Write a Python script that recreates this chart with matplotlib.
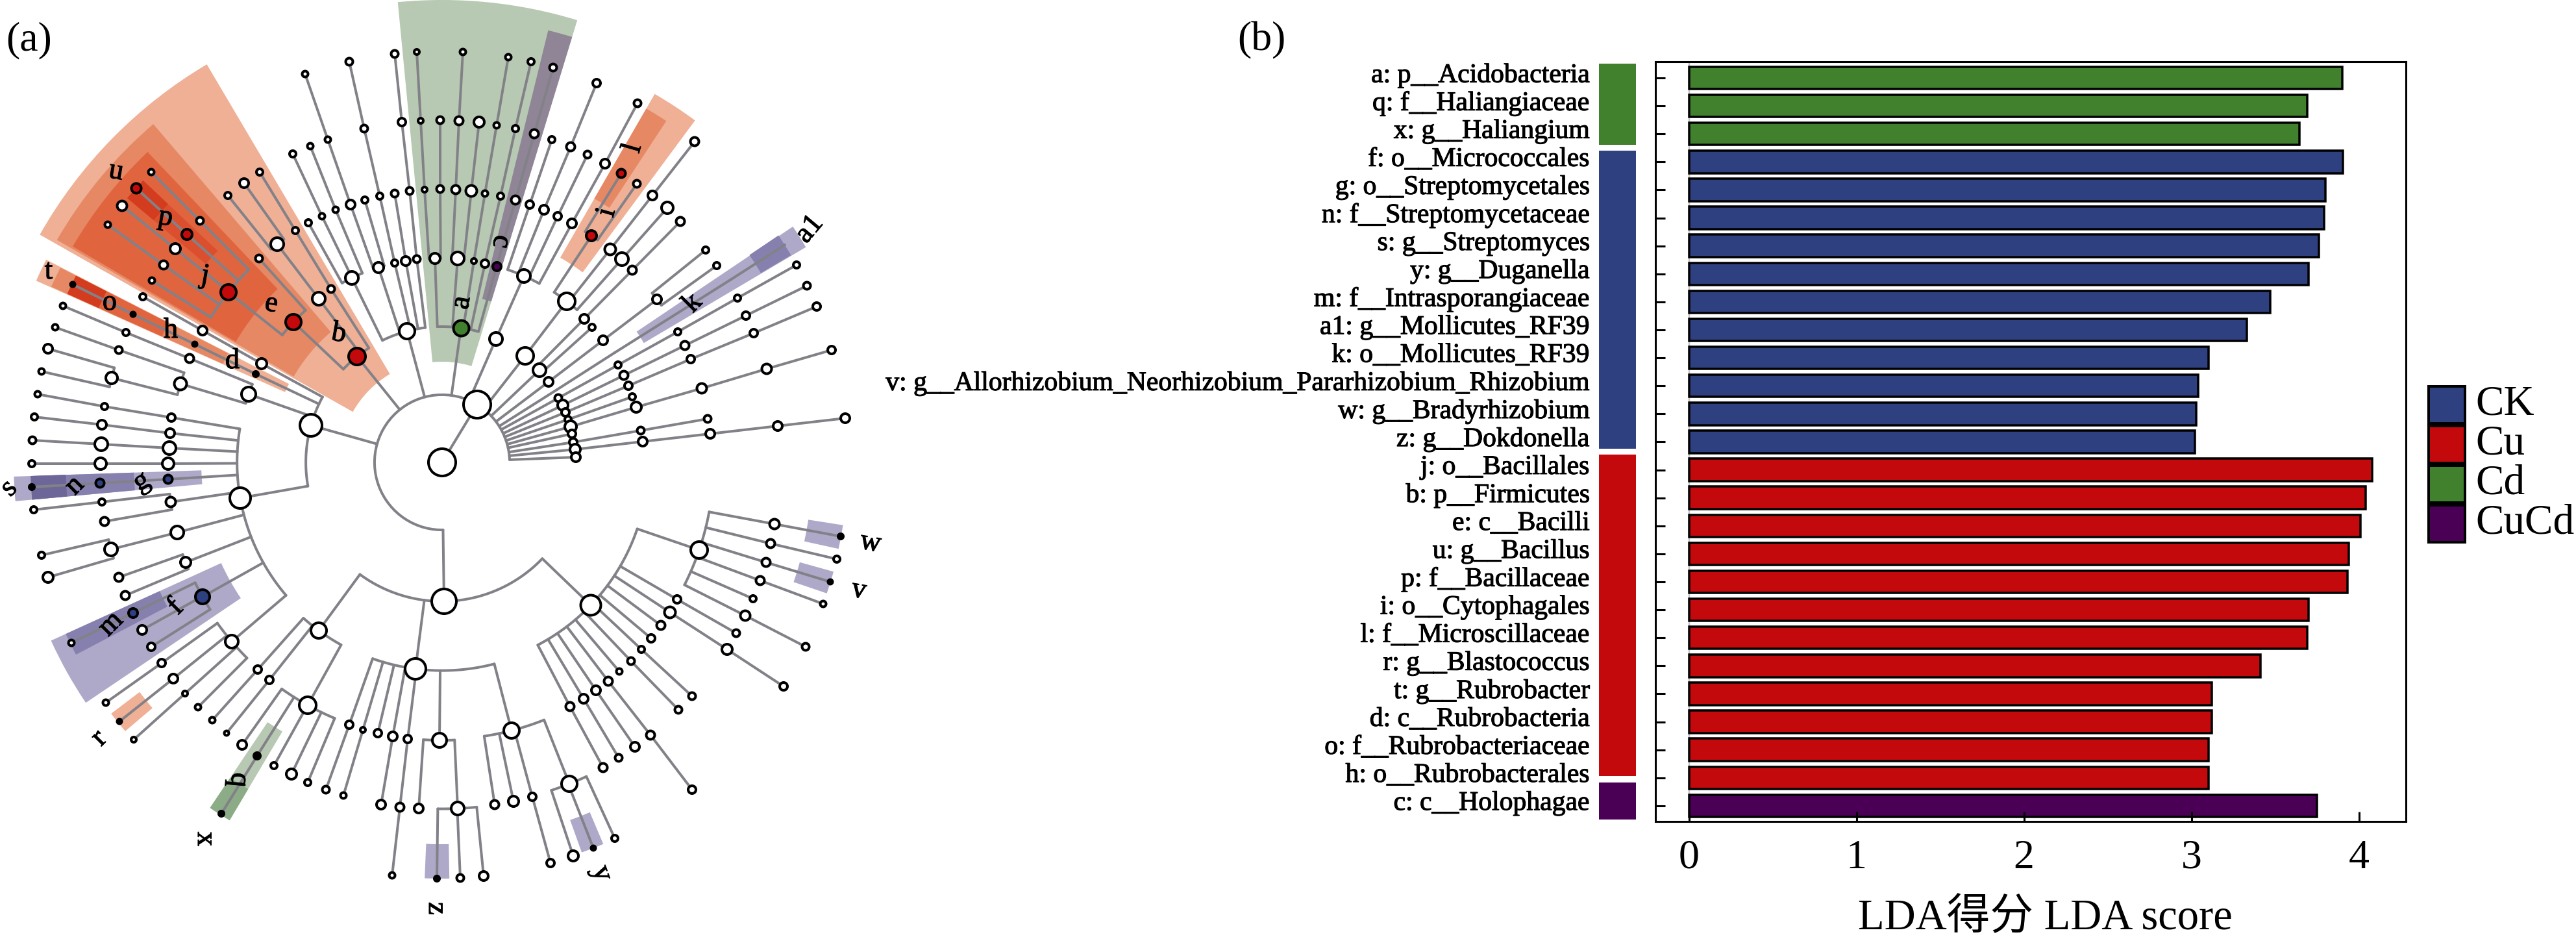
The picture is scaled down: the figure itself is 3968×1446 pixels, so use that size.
import math
import numpy as np
import matplotlib
matplotlib.use('Agg')
import matplotlib.pyplot as plt
import matplotlib.patheffects as pe
from matplotlib.patches import Rectangle, Wedge

plt.rcParams['font.family'] = ['Liberation Serif', 'Noto Sans CJK SC']

#Bar chart (b)
categories = ['a: p__Acidobacteria', 'q: f__Haliangiaceae', 'x: g__Haliangium',
              'f: o__Micrococcales', 'g: o__Streptomycetales', 'n: f__Streptomycetaceae',
              's: g__Streptomyces', 'y: g__Duganella', 'm: f__Intrasporangiaceae',
              'a1: g__Mollicutes_RF39', 'k: o__Mollicutes_RF39',
              'v: g__Allorhizobium_Neorhizobium_Pararhizobium_Rhizobium',
              'w: g__Bradyrhizobium', 'z: g__Dokdonella',
              'j: o__Bacillales', 'b: p__Firmicutes', 'e: c__Bacilli', 'u: g__Bacillus',
              'p: f__Bacillaceae', 'i: o__Cytophagales', 'l: f__Microscillaceae',
              'r: g__Blastococcus', 't: g__Rubrobacter', 'd: c__Rubrobacteria',
              'o: f__Rubrobacteriaceae', 'h: o__Rubrobacterales', 'c: c__Holophagae']
lda_scores = [3.90, 3.69, 3.645, 3.905, 3.80, 3.79, 3.76, 3.70, 3.47, 3.33, 3.10,
              3.04, 3.03, 3.02, 4.08, 4.04, 4.01, 3.94, 3.93, 3.70, 3.69, 3.41,
              3.12, 3.12, 3.10, 3.10, 3.75]
bar_groups = ['Cd'] * 3 + ['CK'] * 11 + ['Cu'] * 12 + ['CuCd']
legend_groups = ['CK', 'Cu', 'Cd', 'CuCd']
group_colors = {'CK': '#2F4080', 'Cu': '#C4090D', 'Cd': '#41812D', 'CuCd': '#4A0055'}
#Colour strip beside the labels: group, first and last bar position
strip_groups = ['Cd', 'CK', 'Cu', 'CuCd']
strip_start = [-0.50, 2.60, 13.46, 25.17]
strip_end = [2.39, 13.24, 24.94, 26.50]
x_ticks = [0, 1, 2, 3, 4]

#Cladogram (a): id, parent, x, y, diameter, fill. Read in pixels of the picture
tree_centre = [
    ('R', None, 681, 712, 46, 'w'), ('B', 'R', 735, 623, 46, 'w'),
]
tree_bottom = [
    ('P1', 'B', 684, 926, 42, 'w'), ('C1', 'P1', 491, 971, 28, 'w'),
    ('C2', 'P1', 640, 1030, 36, 'w'), ('C3', 'P1', 910, 932, 35, 'w'),
    ('D1', 'C1', 397, 1031, 14, 'w'), ('D1a', 'D1', 327, 1109, 11, 'w'),
    ('D2', 'C1', 415, 1047, 14, 'w'), ('D2a', 'D2', 349, 1129, 9, 'w'),
    ('D3', 'C1', 474, 1086, 30, 'w'), ('D3a', 'D3', 373, 1147, 18, 'w'),
    ('q', 'D3', 396, 1164, 12, 'k'), ('x', 'q', 341, 1253, 10, 'k'),
    ('D3c', 'D3', 422, 1179, 12, 'w'), ('D3d', 'D3', 449, 1192, 20, 'w'),
    ('D3e', 'D3', 474, 1205, 12, 'w'),
    ('D4', 'C2', 538, 1116, 14, 'w'), ('D4a', 'D4', 502, 1216, 13, 'w'),
    ('D5', 'C2', 559, 1124, 10, 'w'), ('D5a', 'D5', 529, 1225, 11, 'w'),
    ('D6', 'C2', 582, 1129, 14, 'w'),
    ('D7', 'C2', 605, 1134, 16, 'w'), ('D7a', 'D7', 587, 1239, 16, 'w'),
    ('D8', 'C2', 628, 1138, 14, 'w'), ('D8a', 'D8', 616, 1243, 15, 'w'),
    ('D8b', 'D8a', 604, 1348, 11, 'w'),
    ('D9', 'C2', 677, 1140, 26, 'w'), ('D9a', 'D9', 645, 1245, 18, 'w'),
    ('E9', 'D9', 705, 1245, 24, 'w'), ('z', 'E9', 673, 1353, 10, 'k'),
    ('E9b', 'E9', 709, 1352, 13, 'w'), ('E9c', 'E9', 745, 1349, 16, 'w'),
    ('D10', 'C2', 788, 1125, 28, 'w'), ('D10a', 'D10', 762, 1239, 15, 'w'),
    ('D10b', 'D10', 791, 1234, 20, 'w'), ('E10', 'D10', 820, 1227, 14, 'w'),
    ('E10a', 'E10', 848, 1329, 14, 'w'), ('E11', 'D10', 877, 1207, 28, 'w'),
    ('E11a', 'E11', 883, 1318, 20, 'w'), ('y', 'E11', 914, 1306, 9, 'k'),
    ('E11c', 'E11', 947, 1291, 12, 'w'),
    ('F1', 'C3', 878, 1088, 17, 'w'), ('F1a', 'F1', 929, 1182, 17, 'w'),
    ('F2', 'C3', 899, 1076, 16, 'w'), ('F2a', 'F2', 953, 1167, 13, 'w'),
    ('F3', 'C3', 918, 1063, 18, 'w'), ('F3a', 'F3', 978, 1150, 16, 'w'),
    ('F4', 'C3', 937, 1049, 15, 'w'), ('F4a', 'F4', 1002, 1132, 15, 'w'),
    ('F4b', 'F4a', 1066, 1216, 14, 'w'), ('F5', 'C3', 954, 1034, 11, 'w'),
    ('F6', 'C3', 972, 1018, 13, 'w'), ('F6a', 'F6', 1045, 1093, 13, 'w'),
    ('F7', 'C3', 988, 1000, 12, 'w'), ('F7a', 'F7', 1066, 1072, 13, 'w'),
    ('F8', 'C3', 1003, 983, 14, 'w'), ('F9', 'C3', 1018, 963, 15, 'w'),
    ('F10', 'C3', 1032, 943, 21, 'w'), ('F10a', 'F10', 1120, 1000, 20, 'w'),
    ('F10b', 'F10a', 1207, 1057, 14, 'w'),
    ('F11', 'C3', 1043, 923, 14, 'w'), ('F11a', 'F11', 1134, 975, 13, 'w'),
    ('F12', 'C3', 1077, 847, 30, 'w'),
    ('W1', 'F12', 1193, 807, 19, 'w'), ('w', 'W1', 1295, 826, 10, 'k'),
    ('W2', 'F12', 1187, 837, 17, 'w'), ('W2a', 'W2', 1289, 861, 12, 'w'),
    ('W3', 'F12', 1180, 866, 17, 'w'), ('v', 'W3', 1279, 896, 9, 'k'),
    ('W4', 'F12', 1171, 894, 15, 'w'), ('W4a', 'W4', 1268, 930, 11, 'w'),
    ('W5', 'F12', 1160, 922, 12, 'w'),
    ('W6', 'F12', 1148, 948, 19, 'w'), ('W6a', 'W6', 1241, 996, 13, 'w'),
]
tree_left = [
    ('P2', 'B', 479, 655, 38, 'w'),
    ('G1', 'P2', 403, 560, 20, 'w'), ('G1a', 'G1', 312, 509, 18, 'w'),
    ('G1b', 'G1a', 220, 457, 12, 'w'),
    ('d', 'P2', 394, 576, 10, 'k'), ('h', 'd', 300, 530, 9, 'k'),
    ('o', 'h', 205, 484, 9, 'k'), ('t', 'o', 112, 438, 9, 'k'),
    ('G3', 'P2', 383, 607, 26, 'w'), ('H1', 'G3', 292, 552, 15, 'w'),
    ('H1a', 'H1', 194, 512, 12, 'w'), ('H1b', 'H1a', 97, 471, 11, 'w'),
    ('H2', 'G3', 278, 591, 23, 'w'), ('I1', 'H2', 183, 539, 13, 'w'),
    ('I1a', 'I1', 85, 504, 11, 'w'), ('I2', 'H2', 172, 582, 22, 'w'),
    ('I2a', 'I2', 74, 537, 16, 'w'), ('I2b', 'I2', 64, 572, 11, 'w'),
    ('G4', 'P2', 370, 767, 36, 'w'),
    ('J1', 'G4', 264, 643, 14, 'w'), ('J1a', 'J1', 161, 626, 12, 'w'),
    ('J1b', 'J1a', 58, 607, 11, 'w'),
    ('J2', 'G4', 262, 667, 16, 'w'), ('J2a', 'J2', 157, 654, 16, 'w'),
    ('J2b', 'J2a', 53, 642, 12, 'w'),
    ('J3', 'G4', 261, 690, 24, 'w'), ('J3a', 'J3', 156, 684, 24, 'w'),
    ('J3b', 'J3a', 50, 678, 13, 'w'),
    ('J4', 'G4', 259, 714, 22, 'w'), ('J4a', 'J4', 155, 714, 22, 'w'),
    ('J4b', 'J4a', 49, 714, 12, 'w'),
    ('g', 'G4', 259, 738, 15, 'n'), ('n', 'g', 154, 744, 15, 'n'),
    ('s', 'n', 49, 750, 10, 'k'),
    ('J6', 'G4', 263, 773, 19, 'w'), ('K1', 'J6', 157, 773, 12, 'w'),
    ('K1a', 'K1', 52, 785, 12, 'w'), ('K1b', 'J6', 161, 803, 15, 'w'),
    ('J7', 'G4', 273, 820, 24, 'w'), ('K2', 'J7', 171, 846, 24, 'w'),
    ('K2a', 'K2', 64, 855, 12, 'w'), ('K2b', 'K2', 74, 889, 20, 'w'),
    ('J8', 'G4', 286, 866, 20, 'w'), ('J8a', 'J8', 183, 889, 17, 'w'),
    ('J8b', 'J8', 193, 917, 15, 'w'),
    ('f', 'G4', 312, 919, 26, 'n'), ('m', 'f', 205, 944, 18, 'n'),
    ('m1', 'm', 110, 990, 11, 'w'), ('f2', 'f', 219, 970, 18, 'w'),
    ('f3', 'f', 233, 996, 14, 'w'),
    ('J10', 'G4', 357, 988, 24, 'w'), ('K3', 'J10', 249, 1021, 14, 'w'),
    ('K3a', 'K3', 163, 1082, 11, 'w'), ('K4', 'J10', 267, 1045, 16, 'w'),
    ('r', 'K4', 184, 1111, 9, 'k'), ('K5', 'J10', 285, 1068, 10, 'w'),
    ('K5a', 'K5', 206, 1139, 10, 'w'), ('K6', 'J10', 305, 1089, 11, 'w'),
    ('b', 'B', 550, 549, 30, 'r'), ('e', 'b', 452, 496, 28, 'r'),
    ('L1', 'b', 491, 460, 24, 'w'), ('L2', 'L1', 427, 376, 24, 'w'),
    ('L2a', 'L2', 376, 282, 18, 'w'), ('L2b', 'L2', 351, 301, 12, 'w'),
    ('L3', 'b', 510, 445, 13, 'w'), ('L3a', 'L3', 455, 355, 12, 'w'),
    ('L3b', 'L3a', 400, 265, 12, 'w'),
    ('e1', 'e', 399, 398, 13, 'w'), ('j', 'e', 352, 450, 28, 'r'),
    ('L4', 'j', 308, 340, 13, 'w'), ('L4a', 'L4', 233, 265, 11, 'w'),
    ('p', 'j', 288, 361, 20, 'r'), ('u', 'p', 210, 290, 19, 'r'),
    ('L5', 'j', 270, 383, 20, 'w'), ('L5a', 'L5', 188, 317, 19, 'w'),
    ('L6', 'j', 252, 408, 17, 'w'), ('L6a', 'L6', 166, 346, 11, 'w'),
    ('L7', 'j', 234, 432, 11, 'w'),
]
tree_top = [
    ('P4', 'B', 627, 510, 28, 'w'),
    ('M1', 'P4', 542, 428, 24, 'w'), ('M1a', 'M1', 475, 343, 12, 'w'),
    ('M1b', 'M1', 496, 333, 11, 'w'), ('M1c', 'M1b', 451, 237, 12, 'w'),
    ('M1d', 'M1', 517, 323, 11, 'w'), ('M1e', 'M1d', 478, 225, 11, 'w'),
    ('M2', 'P4', 583, 412, 20, 'w'), ('M3', 'M2', 540, 315, 16, 'w'),
    ('M3a', 'M3', 505, 215, 11, 'w'), ('M3b', 'M3a', 470, 114, 11, 'w'),
    ('M3c', 'M2', 562, 308, 12, 'w'),
    ('M4', 'P4', 608, 405, 12, 'w'), ('M4a', 'M4', 585, 302, 12, 'w'),
    ('M4b', 'M4a', 561, 198, 13, 'w'), ('M4c', 'M4b', 538, 95, 13, 'w'),
    ('M5', 'P4', 625, 402, 18, 'w'), ('M5a', 'M5', 608, 298, 13, 'w'),
    ('M6', 'P4', 642, 399, 13, 'w'), ('M6a', 'M6', 631, 294, 13, 'w'),
    ('M6b', 'M6a', 619, 188, 14, 'w'), ('M6c', 'M6b', 608, 83, 13, 'w'),
    ('a', 'B', 710, 505, 28, 'g'),
    ('N1', 'a', 670, 398, 20, 'w'), ('O1', 'N1', 654, 292, 10, 'w'),
    ('O1a', 'O1', 648, 186, 10, 'w'), ('O1b', 'O1a', 642, 80, 10, 'w'),
    ('O2', 'N1', 678, 291, 13, 'w'), ('O2a', 'O2', 678, 185, 13, 'w'),
    ('N2', 'a', 705, 398, 24, 'w'), ('O3', 'N2', 702, 292, 15, 'w'),
    ('O3a', 'O3', 707, 186, 15, 'w'), ('O3b', 'O3a', 713, 80, 11, 'w'),
    ('O4', 'N2', 726, 294, 21, 'w'), ('O4a', 'O4', 738, 188, 20, 'w'),
    ('N3', 'a', 730, 402, 10, 'w'), ('N3a', 'N3', 747, 298, 11, 'w'),
    ('N3b', 'N3a', 765, 193, 11, 'w'), ('N3c', 'N3b', 783, 88, 11, 'w'),
    ('N4', 'a', 747, 406, 14, 'w'), ('N4a', 'N4', 771, 302, 12, 'w'),
    ('N4b', 'N4a', 794, 198, 12, 'w'), ('N4c', 'N4b', 818, 95, 12, 'w'),
    ('c', 'a', 765, 410, 15, 'p'), ('c1', 'c', 794, 308, 15, 'w'),
    ('c2', 'c1', 823, 206, 15, 'w'), ('c3', 'c2', 852, 104, 13, 'w'),
    ('P6', 'B', 764, 522, 24, 'w'), ('Q', 'P6', 807, 425, 24, 'w'),
    ('Q1', 'Q', 816, 315, 14, 'w'), ('Q1a', 'Q1', 850, 215, 12, 'w'),
    ('Q2', 'Q', 838, 323, 18, 'w'), ('Q2a', 'Q2', 879, 226, 17, 'w'),
    ('Q2b', 'Q2a', 919, 128, 14, 'w'),
    ('Q3', 'Q', 859, 333, 14, 'w'), ('Q3a', 'Q3', 905, 238, 13, 'w'),
    ('Q4', 'Q', 881, 344, 18, 'w'), ('Q4a', 'Q4', 932, 252, 16, 'w'),
    ('Q4b', 'Q4a', 982, 159, 13, 'w'),
]
tree_right = [
    ('P7', 'B', 809, 548, 30, 'w'), ('S', 'P7', 873, 464, 30, 'w'),
    ('i', 'S', 911, 363, 20, 'r'), ('l', 'i', 957, 267, 15, 'r'),
    ('i2', 'i', 981, 283, 13, 'w'),
    ('S1', 'S', 940, 384, 21, 'w'), ('S1a', 'S1', 1005, 301, 18, 'w'),
    ('S1b', 'S1a', 1070, 218, 17, 'w'),
    ('S2', 'S', 958, 399, 24, 'w'), ('S2a', 'S2', 1028, 320, 22, 'w'),
    ('P8', 'B', 831, 570, 24, 'w'), ('T1', 'P8', 900, 491, 18, 'w'),
    ('T1a', 'T1', 974, 416, 15, 'w'), ('T1b', 'T1a', 1048, 341, 15, 'w'),
    ('T1c', 'P8', 912, 504, 12, 'w'),
    ('P9', 'B', 845, 588, 18, 'w'), ('T2', 'P9', 929, 524, 16, 'w'),
    ('T3', 'T2', 1012, 461, 16, 'w'), ('T3a', 'T3', 1087, 385, 12, 'w'),
    ('T3b', 'T3', 1104, 409, 12, 'w'),
    ('kh', 'B', 858, 600, 0, 'w'), ('kh1', 'kh', 947, 543, 0, 'w'),
    ('k', 'kh1', 1036, 487, 0, 'w'), ('kh3', 'k', 1125, 431, 0, 'w'),
    ('a1', 'kh3', 1209, 377, 0, 'w'),
    ('P10', 'B', 860, 613, 13, 'w'), ('P10a', 'P10', 952, 562, 12, 'w'),
    ('P10b', 'P10a', 1044, 511, 12, 'w'), ('P10c', 'P10b', 1136, 459, 12, 'w'),
    ('P10d', 'P10c', 1227, 408, 12, 'w'),
    ('P11', 'B', 867, 624, 20, 'w'), ('P11a', 'P11', 961, 578, 15, 'w'),
    ('P11b', 'P11a', 1055, 532, 15, 'w'), ('P11c', 'P11b', 1149, 486, 14, 'w'),
    ('P11d', 'P11c', 1243, 440, 13, 'w'),
    ('P12', 'B', 871, 635, 14, 'w'), ('P12a', 'P12', 968, 594, 14, 'w'),
    ('P12b', 'P12a', 1064, 553, 14, 'w'), ('P12c', 'P12b', 1161, 513, 14, 'w'),
    ('P12d', 'P12c', 1258, 472, 14, 'w'),
    ('P13', 'B', 875, 646, 12, 'w'), ('P13a', 'P13', 974, 611, 12, 'w'),
    ('P14', 'B', 879, 657, 22, 'w'), ('P14a', 'P14', 980, 627, 20, 'w'),
    ('P14b', 'P14a', 1081, 598, 19, 'w'), ('P14c', 'P14b', 1181, 568, 19, 'w'),
    ('P14d', 'P14c', 1281, 539, 14, 'w'),
    ('P15', 'B', 881, 668, 14, 'w'),
    ('P16', 'B', 883, 681, 14, 'w'), ('P16a', 'P16', 987, 663, 13, 'w'),
    ('P16b', 'P16a', 1090, 645, 13, 'w'),
    ('P17', 'B', 886, 692, 20, 'w'), ('P17a', 'P17', 990, 680, 18, 'w'),
    ('P17b', 'P17a', 1094, 668, 18, 'w'), ('P17c', 'P17b', 1198, 656, 18, 'w'),
    ('P17d', 'P17c', 1302, 644, 16, 'w'),
    ('P18', 'B', 887, 704, 16, 'w'),
]
fill_colors = {'w': 'white', 'k': 'black', 'g': '#41812D', 'n': '#2F4080',
               'r': '#C4090D', 'p': '#4A0055'}

#Shaded sectors: first angle, last angle (degrees), inner radius, outer radius, colour
sal1, sal2, sal3, sal4 = '#EFB095', '#E78864', '#E0653F', '#D43C1F'
bl1, bl2, bl3 = '#AEA9C9', '#8680AF', '#6C6699'
gr1, gr2 = '#B7C9B2', '#8CAC87'
sectors = [
    (120.6, 150.5, 158, 712, sal1), (130.5, 150.0, 264, 685, sal2),
    (133.5, 149.7, 368, 659, sal3), (136.7, 140.0, 475, 633, '#DB4F2E'),
    (136.7, 140.0, 580, 633, sal4),
    (152.9, 155.9, 265, 685, sal1), (153.0, 155.8, 370, 660, sal2),
    (153.0, 155.8, 473, 633, sal3), (153.0, 155.8, 580, 633, sal4),
    (73.0, 95.5, 155, 712, gr1), (73.0, 76.2, 259, 685, '#8F8596'),
    (53.5, 60.0, 364, 655, sal1), (56.7, 60.0, 469, 629, sal2),
    (30.6, 33.9, 361, 651, bl1), (30.7, 34.0, 571, 625, bl2),
    (181.9, 185.2, 371, 660, bl1), (181.9, 185.2, 475, 634, bl2),
    (181.9, 185.2, 580, 634, bl3),
    (204.5, 214.0, 374, 662, bl1), (204.5, 207.7, 478, 637, bl2),
    (217.2, 220.3, 585, 640, sal1),
    (236.1, 239.3, 482, 641, gr1), (236.1, 239.3, 585, 641, gr2),
    (267.6, 271.0, 588, 641, bl1), (289.7, 292.9, 585, 638, bl1),
    (347.7, 351.1, 571, 625, bl1), (341.2, 344.4, 572, 626, bl1),
]

#Letters on the cladogram: text, x, y, rotation
tree_labels = [
    ('u', 179, 264, -10), ('p', 255, 335, -10), ('j', 316, 425, -10), ('e', 418, 468, -10),
    ('b', 522, 514, -10), ('t', 75, 418, 0), ('o', 169, 466, 0), ('h', 263, 509, 0),
    ('d', 358, 556, 0), ('a', 711, 466, 80), ('c', 772, 372, -100), ('l', 975, 228, 74),
    ('i', 935, 327, 74), ('k', 1067, 467, 45), ('a1', 1247, 353, 50), ('s', 14, 752, 45),
    ('n', 115, 748, 45), ('g', 218, 742, 30), ('m', 171, 961, 45), ('f', 271, 935, 45),
    ('r', 153, 1137, 45), ('q', 368, 1201, -95), ('x', 316, 1292, -90), ('z', 672, 1399, -90),
    ('y', 927, 1345, -70), ('w', 1341, 836, -10), ('v', 1323, 909, -10),
]

LINE_GRAY = '#838188'
RING = 4  #ring width in pixels
PX = 0.72  #points per pixel at dpi 100
#The original raster text is a little heavier than the plain font
TEXT_STROKE = [pe.withStroke(linewidth=0.8, foreground='black')]


def polar(x, y, cx, cy):
    '''Radius and angle (degrees, 0-360, counterclockwise on the picture)'''
    return math.hypot(x - cx, y - cy), math.degrees(math.atan2(cy - y, x - cx)) % 360


def draw_tree(ax, rows):
    '''
    Draws the radial tree: every parent gets an arc at its own radius that
    runs over the angles of its children, then a spoke out to each child.
    '''
    cx, cy = rows[0][2], rows[0][3]
    nodes = {row[0]: row for row in rows}
    children = {}
    for row in rows:
        if row[1] is not None:
            children.setdefault(row[1], []).append(row[0])

    for parent, kids in children.items():
        px_, py_ = nodes[parent][2], nodes[parent][3]
        rad, ang = polar(px_, py_, cx, cy)
        kid_angles = [polar(nodes[k][2], nodes[k][3], cx, cy)[1] for k in kids]
        if len(kids) > 1:
            lo, hi = min(kid_angles + [ang]), max(kid_angles + [ang])
            t = np.radians(np.linspace(lo, hi, 60))
            ax.plot(cx + rad * np.cos(t), cy - rad * np.sin(t), color=LINE_GRAY,
                    lw=4 * PX, solid_capstyle='round', zorder=3)
        for k, a in zip(kids, kid_angles):
            t = math.radians(a)
            x0, y0 = cx + rad * math.cos(t), cy - rad * math.sin(t)
            if len(kids) == 1:
                x0, y0 = px_, py_
            ax.plot([x0, nodes[k][2]], [y0, nodes[k][3]], color=LINE_GRAY,
                    lw=4 * PX, solid_capstyle='round', zorder=3)

    for fill, color in fill_colors.items():
        part = [r for r in rows if r[5] == fill and r[4] > 0]
        #small rings were read a little short on the stretched crops
        outer = [r[4] + 2 if r[4] <= 16 else r[4] for r in part]
        sizes = [(max(d - RING, 3) * PX) ** 2 for d in outer]
        ax.scatter([r[2] for r in part], [r[3] for r in part], s=sizes, c=color,
                   edgecolors='black', linewidths=RING * PX, zorder=4)


fig = plt.figure(figsize=(39.68, 14.46), dpi=100)

#Panel (a), one data unit is one pixel of the figure
ax_tree = fig.add_axes([0, 0, 2000 / 3968, 1])
ax_tree.set_xlim(0, 2000)
ax_tree.set_ylim(1446, 0)
ax_tree.axis('off')

all_rows = tree_centre + tree_bottom + tree_left + tree_top + tree_right
for t1, t2, r1, r2, col in sectors:
    ax_tree.add_patch(Wedge((all_rows[0][2], all_rows[0][3]), r2, -t2, -t1, width=r2 - r1,
                            facecolor=col, edgecolor='none', zorder=1))
draw_tree(ax_tree, all_rows)
for txt, x, y, rot in tree_labels:
    ax_tree.text(x, y, txt, fontsize=32, rotation=rot, ha='center', va='center', zorder=5,
                 path_effects=TEXT_STROKE)
ax_tree.text(45, 62, '(a)', fontsize=46, ha='center', va='center')
ax_tree.text(1943, 62, '(b)', fontsize=46, ha='center', va='center')

#Panel (b)
ax = fig.add_axes([2550 / 3968, (1446 - 1265) / 1446, 1156 / 3968, 1170 / 1446])
positions = np.arange(len(categories))
ax.barh(positions, lda_scores, height=0.80, color=[group_colors[g] for g in bar_groups],
        edgecolor='black', linewidth=3.5 * PX, zorder=2)
ax.axvline(0, color='#C4C4C4', lw=2.5 * PX, zorder=1)
ax.set_xlim(-0.2, 4.28)
ax.set_ylim(26.56, -0.58)
ax.set_axisbelow(False)
ax.set_xticks(x_ticks)
ax.set_yticks(positions)
ax.set_yticklabels([])
ax.tick_params(axis='x', direction='in', length=11, width=2.2, pad=20, labelsize=46)
ax.tick_params(axis='y', direction='in', length=11, width=2.2)
for spine in ax.spines.values():
    spine.set_linewidth(2.2)
ax.set_xlabel('LDA得分 LDA score', fontsize=48, va='center')
ax.xaxis.set_label_coords((3150 - 2550) / 1156, (1265 - 1414) / 1170)

for pos, name in zip(positions, categories):
    ax.text((2449 - 2550) / 1156, pos - 0.09, name, fontsize=30, ha='right', va='center',
            transform=ax.get_yaxis_transform(), clip_on=False, path_effects=TEXT_STROKE)
strip_trans = ax.get_yaxis_transform()
for g, y0, y1 in zip(strip_groups, strip_start, strip_end):
    ax.add_patch(Rectangle(((2463 - 2550) / 1156, y0), 57 / 1156, y1 - y0,
                           facecolor=group_colors[g], edgecolor='none',
                           transform=strip_trans, clip_on=False))

#Legend with the boxes stacked tightly, as in the figure
ax_leg = fig.add_axes([3739 / 3968, (1446 - 840) / 1446, 225 / 3968, 247 / 1446])
ax_leg.set_xlim(0, 225)
ax_leg.set_ylim(247, 0)
ax_leg.axis('off')
for n, g in enumerate(legend_groups):
    ax_leg.add_patch(Rectangle((2, 2 + n * 61), 56, 57, facecolor=group_colors[g],
                               edgecolor='black', linewidth=4 * PX))
    ax_leg.text(74, 30 + n * 61, g, fontsize=47, ha='left', va='center')

fig.savefig('out.png', dpi=100)
